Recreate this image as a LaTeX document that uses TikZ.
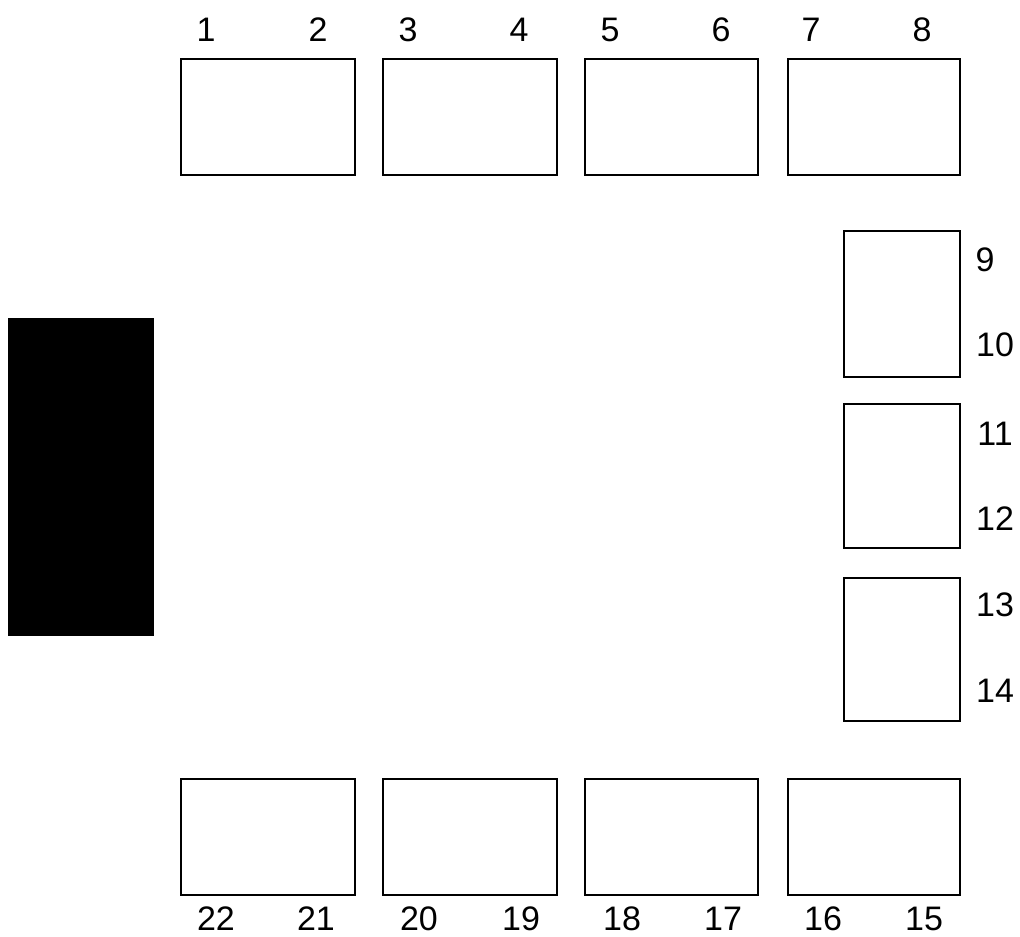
\documentclass[tikz,border=0pt]{standalone}
\usepackage{fontspec}
\setmainfont{Liberation Sans}
\begin{document}
\begin{tikzpicture}[x=1pt,y=-1pt,
  boxs/.style={draw=black,line width=1.6pt,fill=white},
  lbl/.style={inner sep=0pt,font=\fontsize{34}{36}\selectfont}]
\useasboundingbox (0,0) rectangle (1020,937);
\fill[white] (0,0) rectangle (1020,937);
% top boxes
\draw[boxs] (181,59) rectangle (355,175);
\draw[boxs] (383,59) rectangle (557,175);
\draw[boxs] (585,59) rectangle (758,175);
\draw[boxs] (788,59) rectangle (960,175);
% right boxes
\draw[boxs] (844,231) rectangle (960,377);
\draw[boxs] (844,404) rectangle (960,548);
\draw[boxs] (844,578) rectangle (960,721);
% bottom boxes
\draw[boxs] (181,779) rectangle (355,895);
\draw[boxs] (383,779) rectangle (557,895);
\draw[boxs] (585,779) rectangle (758,895);
\draw[boxs] (788,779) rectangle (960,895);
% black block
\fill[black] (8,318) rectangle (154,636);
% top labels
\node[lbl] (l1) at (206,30) {1};
\node[lbl] (l2) at (318,30) {2};
\node[lbl] (l3) at (408,30) {3};
\node[lbl] (l4) at (519,30) {4};
\node[lbl] (l5) at (610,30) {5};
\node[lbl] (l6) at (721,30) {6};
\node[lbl] (l7) at (811,30) {7};
\node[lbl] (l8) at (922,30) {8};
% right labels
\node[lbl] (l9) at (985,260) {9};
\node[lbl] (l10) at (995,345) {10};
\node[lbl] (l11) at (995,434) {11};
\node[lbl] (l12) at (995,519) {12};
\node[lbl] (l13) at (995,605) {13};
\node[lbl] (l14) at (995,691) {14};
% bottom labels
\node[lbl] (l22) at (216,919) {22};
\node[lbl] (l21) at (316,919) {21};
\node[lbl] (l20) at (419,919) {20};
\node[lbl] (l19) at (521,919) {19};
\node[lbl] (l18) at (622,919) {18};
\node[lbl] (l17) at (723,919) {17};
\node[lbl] (l16) at (823,919) {16};
\node[lbl] (l15) at (924,919) {15};
\end{tikzpicture}
\end{document}
